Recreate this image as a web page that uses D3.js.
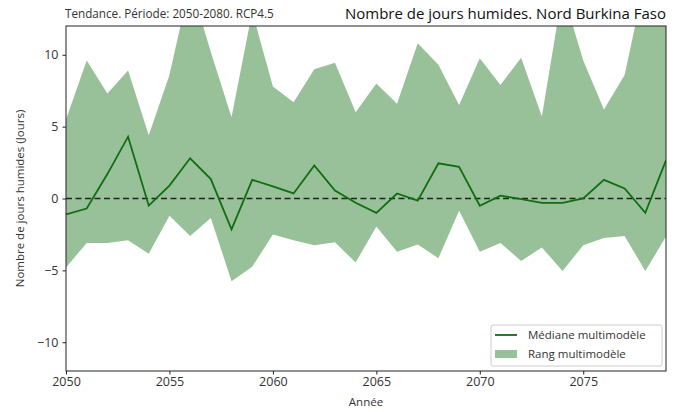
<!DOCTYPE html>
<html>
<head>
<meta charset="utf-8">
<script src="https://cdn.jsdelivr.net/npm/d3@7"></script>
<style>
  body { margin: 0; background: #fff; }
  text { font-family: "Open Sans", sans-serif; }
</style>
</head>
<body>
<svg id="chart" width="684" height="412"></svg>
<script>
// years 2050..2079
var years = d3.range(2050, 2080);
var median = [-1.1, -0.7, 1.7, 4.3, -0.5, 0.9, 2.8, 1.35, -2.15, 1.3,
              0.85, 0.35, 2.3, 0.55, -0.3, -1.0, 0.35, -0.15, 2.45, 2.2,
              -0.5, 0.2, -0.05, -0.3, -0.3, 0.0, 1.3, 0.7, -1.0, 2.65];
var upper = [5.5, 9.6, 7.3, 8.9, 4.4, 8.6, 15.0, 10.2, 5.65, 13.0,
             7.8, 6.7, 9.0, 9.45, 6.0, 8.0, 6.6, 10.8, 9.3, 6.5,
             9.75, 7.9, 9.8, 5.7, 14.4, 9.6, 6.2, 8.6, 15.3, 15.5];
var lower = [-4.8, -3.1, -3.1, -2.9, -3.85, -1.2, -2.6, -1.35, -5.75, -4.75,
             -2.5, -2.9, -3.25, -3.05, -4.45, -1.95, -3.7, -3.2, -4.15, -0.85,
             -3.7, -3.1, -4.35, -3.4, -5.05, -3.25, -2.75, -2.6, -5.05, -2.65];
var xTicks = [2050, 2055, 2060, 2065, 2070, 2075];
var yTicks = [-10, -5, 0, 5, 10];

var margin = { top: 26, right: 18, bottom: 41, left: 66 },
    width = 684 - margin.left - margin.right,
    height = 412 - margin.top - margin.bottom;

var svg = d3.select("#chart");
var g = svg.append("g").attr("transform", "translate(" + margin.left + "," + margin.top + ")");

var x = d3.scaleLinear().domain([2050, 2079]).range([0, width]);
var y = d3.scaleLinear().domain([-12, 12]).range([height, 0]);

var data = years.map(function(d, i) {
    return { year: d, med: median[i], hi: upper[i], lo: lower[i] };
});

g.append("clipPath").attr("id", "clip")
    .append("rect").attr("width", width).attr("height", height);

var plot = g.append("g").attr("clip-path", "url(#clip)");

var area = d3.area()
    .x(function(d) { return x(d.year); })
    .y0(function(d) { return y(d.lo); })
    .y1(function(d) { return y(d.hi); });

plot.append("path")
    .datum(data)
    .attr("d", area)
    .style("fill", "rgb(153,193,153)");

//zero line
plot.append("line")
    .attr("x1", 0).attr("x2", width)
    .attr("y1", y(0)).attr("y2", y(0))
    .style("stroke", "#222")
    .style("stroke-width", 1.5)
    .style("stroke-dasharray", "6,3.5");

var line = d3.line()
    .x(function(d) { return x(d.year); })
    .y(function(d) { return y(d.med); });

plot.append("path")
    .datum(data)
    .attr("d", line)
    .style("fill", "none")
    .style("stroke", "#116d11")
    .style("stroke-width", 1.8);

//axes
var xAxis = g.append("g")
    .attr("transform", "translate(0," + height + ")")
    .call(d3.axisBottom(x).tickValues(xTicks).tickFormat(d3.format("d")).tickSize(3.5).tickPadding(3));
var yAxis = g.append("g")
    .call(d3.axisLeft(y).tickValues(yTicks).tickFormat(function(d) { return d < 0 ? "\u2212" + Math.abs(d) : d; }).tickSize(3.5).tickPadding(4));
[xAxis, yAxis].forEach(function(a) {
    a.select(".domain").remove();
    a.selectAll("text").style("font-size", "12.5px").style("fill", "#333");
    a.selectAll("line").style("stroke", "#222");
});

g.append("rect")
    .attr("width", width).attr("height", height)
    .style("fill", "none").style("stroke", "#222").style("stroke-width", 1);

//titles
svg.append("text")
    .attr("x", margin.left - 1).attr("y", 18)
    .style("font-size", "11.7px").style("fill", "#333")
    .text("Tendance. Période: 2050-2080. RCP4.5");
svg.append("text")
    .attr("x", margin.left + width).attr("y", 19)
    .attr("text-anchor", "end")
    .style("font-size", "15px").style("fill", "#111")
    .text("Nombre de jours humides. Nord Burkina Faso");
svg.append("text")
    .attr("x", margin.left + width / 2).attr("y", 406)
    .attr("text-anchor", "middle")
    .style("font-size", "11.5px").style("fill", "#333")
    .text("Année");
svg.append("text")
    .attr("transform", "translate(24," + (margin.top + height / 2) + ") rotate(-90)")
    .attr("text-anchor", "middle")
    .style("font-size", "11.5px").style("fill", "#333")
    .text("Nombre de jours humides (Jours)");

//legend
var leg = svg.append("g").attr("transform", "translate(491,325)");
leg.append("rect")
    .attr("width", 171).attr("height", 41).attr("rx", 2)
    .style("fill", "#fff").style("fill-opacity", 0.8)
    .style("stroke", "#ccc");
leg.append("line")
    .attr("x1", 4).attr("x2", 26).attr("y1", 10).attr("y2", 10)
    .style("stroke", "#116d11").style("stroke-width", 1.8);
leg.append("rect")
    .attr("x", 4).attr("y", 25).attr("width", 22).attr("height", 8)
    .style("fill", "rgb(153,193,153)");
leg.append("text").attr("x", 37).attr("y", 14)
    .style("font-size", "11.5px").style("fill", "#333").text("Médiane multimodèle");
leg.append("text").attr("x", 37).attr("y", 33)
    .style("font-size", "11.5px").style("fill", "#333").text("Rang multimodèle");
</script>
</body>
</html>
